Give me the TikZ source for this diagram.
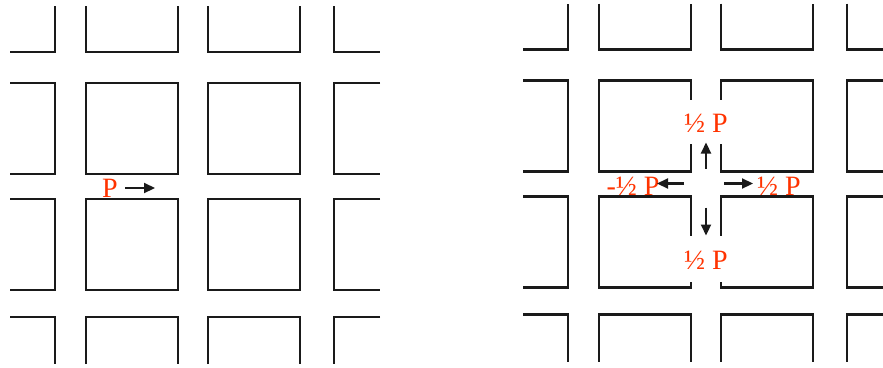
\documentclass[tikz,border=0pt]{standalone}
\usepackage{fontspec}
\setmainfont{Liberation Serif}
\usetikzlibrary{arrows.meta}
\definecolor{redp}{HTML}{FF3300}
\definecolor{ink}{HTML}{1A1A1A}
\tikzset{
  blk/.style={line width=2.2pt,ink},
  ar/.style={-{Triangle[length=11pt,width=10pt]},line width=2.2pt,ink},
  lbl/.style={text=redp,font=\fontsize{28}{30}\selectfont,inner sep=0pt}
}

\begin{document}
\begin{tikzpicture}[x=1pt,y=-1pt]
\useasboundingbox (0,0) rectangle (883,367);
% outer ring of blocks, same in both panels
\foreach \dx/\dy in {0/0,513/-2.5}{
  \begin{scope}[shift={(\dx,\dy)}]
  \draw[blk] (10,52) -| (55,6);
  \draw[blk] (86,6) |- (178,52) -- (178,6);
  \draw[blk] (208,6) |- (300,52) -- (300,6);
  \draw[blk] (334,6) |- (380,52);
  \draw[blk] (10,83) -| (55,174) -- (10,174);
  \draw[blk] (380,83) -| (334,174) -- (380,174);
  \draw[blk] (10,199) -| (55,290) -- (10,290);
  \draw[blk] (380,199) -| (334,290) -- (380,290);
  \draw[blk] (10,317) -| (55,364);
  \draw[blk] (86,364) |- (178,317) -- (178,364);
  \draw[blk] (208,364) |- (300,317) -- (300,364);
  \draw[blk] (380,317) -| (334,364);
  \end{scope}
}
% left panel: closed blocks
\draw[blk] (86,83) rectangle (178,174);
\draw[blk] (208,83) rectangle (300,174);
\draw[blk] (86,199) rectangle (178,290);
\draw[blk] (208,199) rectangle (300,290);
\node[lbl] (pL) at (110,188) {P};
\coordinate (pLa) at (125,188);
\coordinate (pLb) at (155,188);
\draw[ar] (pLa) -- (pLb);
% right panel: blocks open at the crossing
\begin{scope}[shift={(513,-2.5)}]
\draw[blk] (178,102) -- (178,83) -- (86,83) -- (86,174) -- (178,174) -- (178,146);
\draw[blk] (208,102) -- (208,83) -- (300,83) -- (300,174) -- (208,174) -- (208,146);
\draw[blk] (178,238) -- (178,199) -- (86,199) -- (86,290) -- (178,290) -- (178,284);
\draw[blk] (208,238) -- (208,199) -- (300,199) -- (300,290) -- (208,290) -- (208,284);
\node[lbl] (pUp) at (193,125.5) {½ P};
\node[lbl] (pDown) at (193,262.5) {½ P};
\node[lbl] (pLeft) at (120,188.5) {-½ P};
\node[lbl] (pRight) at (266,188.5) {½ P};
\coordinate (mUp) at (193,171);
\coordinate (mUpEnd) at (193,145);
\coordinate (mDown) at (193,210);
\coordinate (mDownEnd) at (193,238);
\coordinate (mLeft) at (171,186);
\coordinate (mLeftEnd) at (144,186);
\coordinate (mRight) at (211,186);
\coordinate (mRightEnd) at (240,186);
\draw[ar] (mUp) -- (mUpEnd);
\draw[ar] (mDown) -- (mDownEnd);
\draw[ar] (mLeft) -- (mLeftEnd);
\draw[ar] (mRight) -- (mRightEnd);
\end{scope}
\end{tikzpicture}
\end{document}
